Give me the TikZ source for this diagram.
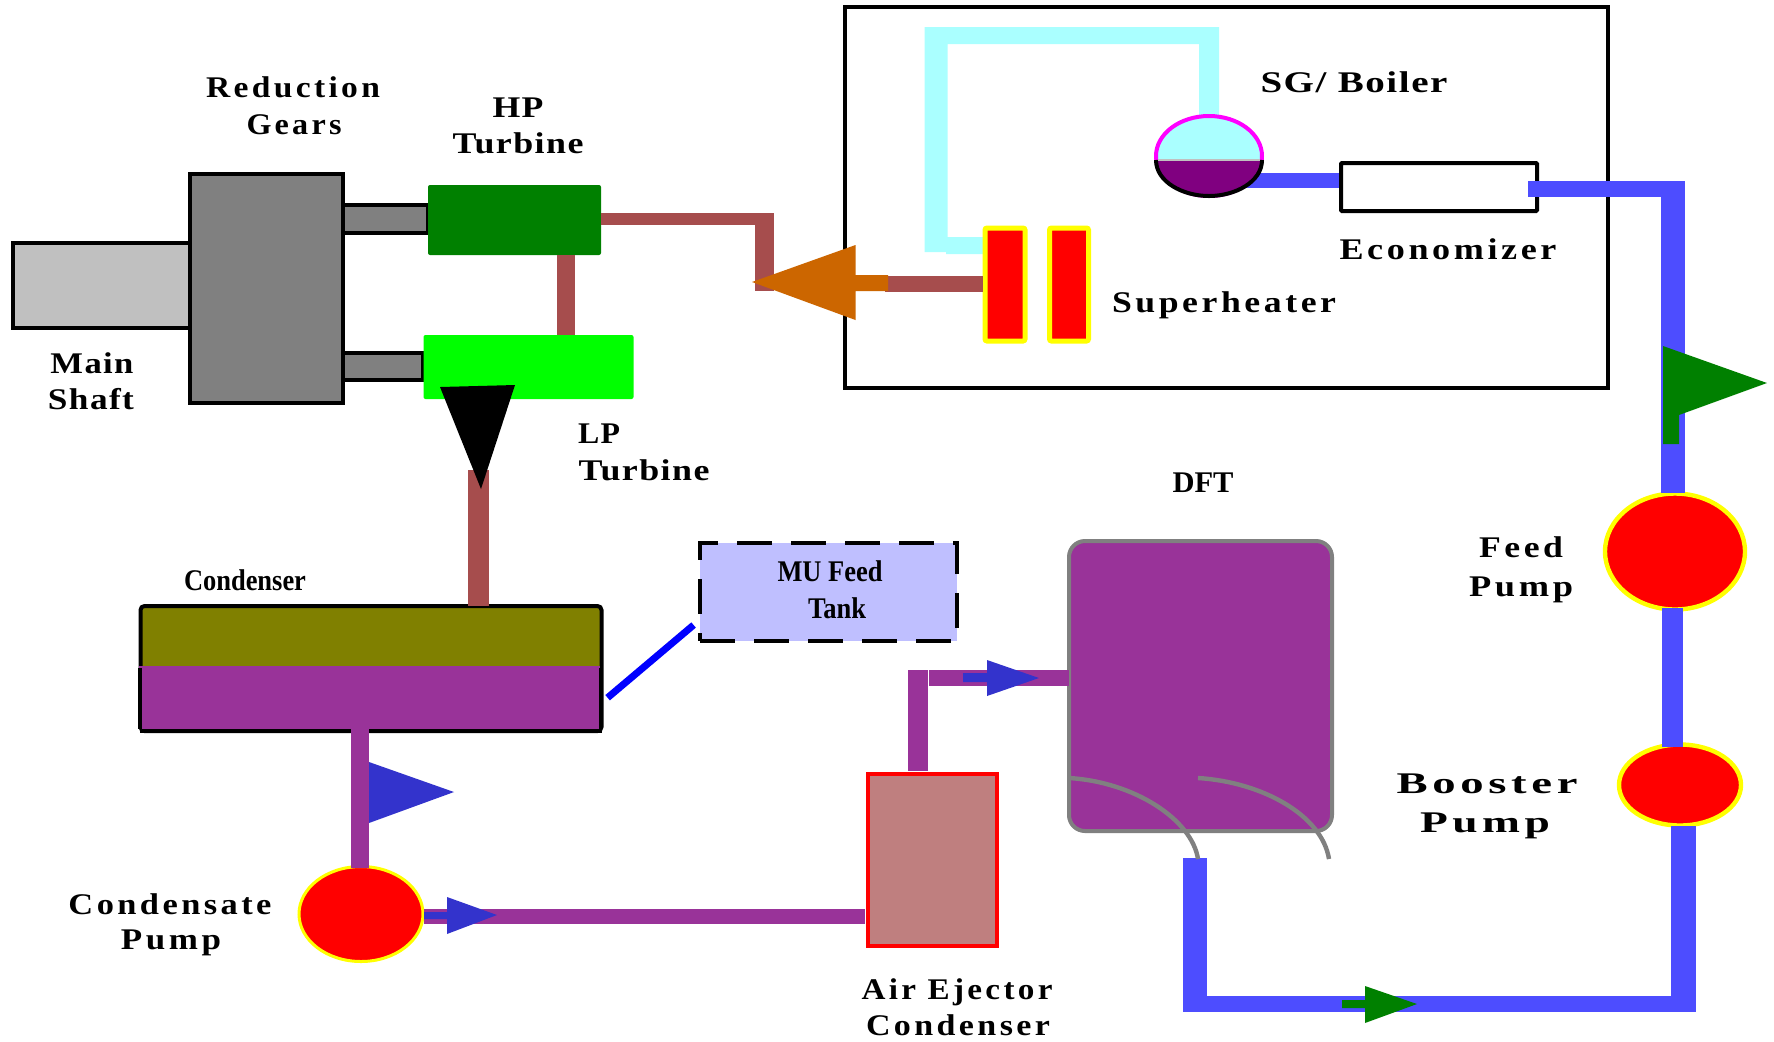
\documentclass[tikz,border=0pt]{standalone}
\usepackage{fontspec}
\usepackage{graphicx}
\usetikzlibrary{shapes.geometric}
\setmainfont{Liberation Serif}
\newfontfamily\widefont[LetterSpace=10]{Liberation Serif}
\newfontfamily\midfont[LetterSpace=4]{Liberation Serif}
\newcommand\fitw[2]{\resizebox{\dimexpr #1pt/2\relax}{\height}{#2}}
\definecolor{steamc}{HTML}{A64D4D}
\definecolor{feedc}{HTML}{4D4DFF}
\definecolor{condc}{HTML}{993399}
\definecolor{cyanc}{HTML}{AAFFFF}
\definecolor{arrowb}{HTML}{3333CC}
\definecolor{orangec}{HTML}{CC6600}
\definecolor{tankc}{HTML}{BFBFFF}
\definecolor{aec}{HTML}{BF7F7F}
\definecolor{dgreen}{HTML}{008000}
\definecolor{lgreen}{HTML}{00FF00}
\definecolor{oliv}{HTML}{808000}
\definecolor{yel}{HTML}{FFFF00}
\definecolor{rd}{HTML}{FF0000}
\definecolor{mag}{HTML}{FF00FF}
\definecolor{gry}{HTML}{808080}
\definecolor{lgry}{HTML}{C0C0C0}
\definecolor{drumc}{HTML}{800080}
\definecolor{pureblue}{HTML}{0000FF}
\tikzset{
  wh/.style 2 args={minimum width=#1*0.5pt,minimum height=#2*0.5pt,inner sep=0pt,outer sep=0pt},
  pipe/.style 2 args={draw=#1,line width=#2*0.5pt,line cap=butt},
  shaftbox/.style={draw=black,fill=gry,line width=2pt,rectangle},
  heater/.style={rectangle,draw=yel,fill=rd,line width=2.5pt,rounded corners=1pt},
  pump/.style={ellipse,draw=yel,fill=rd,line width=2.2pt},
  lab/.style={anchor=base,inner sep=0pt,font=\bfseries\fontsize{15pt}{15pt}\selectfont},
}
\begin{document}
\begin{tikzpicture}[x=0.5pt,y=-0.5pt]
\useasboundingbox (0,0) rectangle (1774,1041);
\fill[white] (0,0) rectangle (1774,1041);
% boiler enclosure
\node[rectangle,draw=black,fill=white,line width=2pt,wh={763}{381}] (enclosure) at (1226.5,197.5) {};
% free ends
\coordinate (steamBend) at (774,219);
\coordinate (steamTop) at (764,213);
\coordinate (steamLow) at (764,291);
\coordinate (econOut) at (1528,189);
\coordinate (econCorner) at (1685,189);
\coordinate (feedTop) at (1673,197);
% shafts
\node[shaftbox,wh={85}{28}] (shaftU) at (385.5,219) {};
\node[shaftbox,wh={80}{27}] (shaftL) at (383,366.5) {};
% main shaft, gears
\node[rectangle,draw=black,fill=lgry,line width=2pt,wh={177}{85}] (mainshaft) at (101.5,285.5) {};
\node[shaftbox,wh={153}{229}] (gears) at (266.5,288.5) {};
% turbines
\node[rectangle,fill=dgreen,rounded corners=1pt,wh={173}{70}] (hp) at (514.5,220) {};
\node[rectangle,fill=lgreen,rounded corners=1pt,wh={210}{64}] (lp) at (528.5,367) {};
% steam pipes
\draw[pipe={steamc}{18}] (hp.south -| 566,0) -- (566,335);
\draw[pipe={steamc}{12}] (hp.east |- steamBend) -- (steamBend);
\draw[pipe={steamc}{19}] (steamTop) -- (steamLow);
% condenser
\node[rectangle,draw=black,fill=oliv,line width=2pt,rounded corners=2pt,wh={461}{125}] (cond) at (371,668.5) {};
\fill[condc] (139,666) rectangle (600,729);
\draw[black,line width=2pt] (140,731) -- (601.5,731);
\draw[black,line width=2pt] (140,668) -- (140,729);
\draw[black,line width=2pt] (601,668) -- (601,729);
\draw[pipe={steamc}{21}] (478.5,470) -- (478.5,606);
\fill[black] (440,387) -- (515,385) -- (481,489) -- cycle;
% cyan duct
\fill[cyanc] (924.5,27) -- (1219,27) -- (1219,116) -- (1199,116) -- (1199,44) -- (947.5,44) -- (947.5,237) -- (983,237) -- (983,254) -- (946,254) -- (946,252) -- (924.5,252) -- cycle;
% superheater
\node[heater,wh={40}{113}] (sh1) at (1005,284.5) {};
\node[heater,wh={39}{113}] (sh2) at (1069,284.5) {};
% boiler drum
\node[ellipse,draw=mag,fill=cyanc,line width=2pt,wh={106}{80}] (drum) at (1209,156) {};
\draw[pipe={feedc}{15}] (1245,180.5) -- (1341,180.5);
\fill[drumc] (1156,160) .. controls (1156,182) and (1183,196) .. (1209,196) .. controls (1235,196) and (1262,182) .. (1262,160) -- cycle;
\draw[black,line width=2pt] (1156,160) .. controls (1156,182) and (1183,196) .. (1209,196) .. controls (1235,196) and (1262,182) .. (1262,160);
\draw[lgry,line width=1pt] (1158,160) -- (1260,160);
% economizer
\node[rectangle,draw=black,fill=white,line width=2pt,rounded corners=0.5pt,wh={196}{48}] (econ) at (1439,187) {};
\draw[pipe={feedc}{16}] (econOut) -- (econCorner);
% steam to orange arrow
\draw[pipe={steamc}{16},shorten <=1.25pt] (sh1.west |- 0,284) -- (885,284);
\fill[orangec] (752,282) -- (855.5,245) -- (855.5,275) -- (888,275) -- (888,291) -- (855.5,291) -- (855.5,320) -- cycle;
% feed line
\node[pump,wh={140}{116}] (feedp) at (1675,551.5) {};
\node[pump,wh={122}{81}] (boost) at (1680,785) {};
\draw[pipe={feedc}{24}] (feedTop) -- (1673,493);
\draw[pipe={feedc}{21}] (1672.5,608) -- (1672.5,747);
\draw[pipe={feedc}{25}] (1683.5,826) -- (1683.5,1012);
\draw[pipe={feedc}{16}] (1183,1004) -- (1696,1004);
\draw[pipe={feedc}{24}] (1195,858) -- (1195,1012);
\fill[dgreen] (1663,346) -- (1767,383) -- (1679,415) -- (1679,444) -- (1663,444) -- cycle;
\fill[dgreen] (1342,1000) -- (1365,1000) -- (1365,986) -- (1417,1004) -- (1365,1023) -- (1365,1008) -- (1342,1008) -- cycle;
% DFT
\node[rectangle,draw=gry,fill=condc,line width=2pt,rounded corners=8pt,wh={263}{290}] (dft) at (1200.5,686) {};
\draw[gry,line width=2.2pt] (1069,778) .. controls (1135,782) and (1192,820) .. (1198,859);
\draw[gry,line width=2.2pt] (1198,778) .. controls (1262,782) and (1322,815) .. (1329,859);
% MU tank
\node[rectangle,fill=tankc,draw=black,line width=2pt,dash pattern=on 17.5pt off 9.5pt,wh={257}{98}] (tank) at (828.5,592) {};
\draw[draw=pureblue,line width=3.5pt] (607.6,697.7) -- (693.6,625);
% condensate line
\node[pump,wh={124}{95},line width=1.5pt] (condp) at (361,914) {};
\draw[pipe={condc}{18}] (360,725) -- (360,868);
\fill[arrowb] (369,762) -- (454,792) -- (369,823) -- cycle;
\node[rectangle,draw=rd,fill=aec,line width=1.8pt,wh={129}{172}] (ae) at (932.5,860) {};
\draw[pipe={condc}{15}] (424,916.5) -- (865,916.5);
\fill[arrowb] (424,912) -- (447,912) -- (447,897) -- (497,915) -- (447,934) -- (447,919) -- (424,919) -- cycle;
\draw[pipe={condc}{20}] (918,670) -- (918,771);
\draw[pipe={condc}{16}] (929,678) -- (dft.west |- 0,678);
\fill[arrowb] (963,673) -- (987,673) -- (987,660) -- (1039,678) -- (987,696) -- (987,682) -- (963,682) -- cycle;
% labels
\node[lab] (tReduction) at (293,97) {\fitw{174}{\widefont Reduction}};
\node[lab] (tGears) at (294,134) {\fitw{95}{\widefont Gears}};
\node[lab] (tHP) at (518,117) {\fitw{51}{\midfont HP}};
\node[lab] (tHPt) at (518,153) {\fitw{131}{\midfont Turbine}};
\node[lab] (tMain) at (92,373) {\fitw{83}{\midfont Main}};
\node[lab] (tShaft) at (91,409) {\fitw{86}{\midfont Shaft}};
\node[lab] (tLP) at (599,443) {\fitw{42}{\midfont LP}};
\node[lab] (tLPt) at (644,480) {\fitw{131}{\midfont Turbine}};
\node[lab] (tSG) at (1354,92) {\fitw{187}{\midfont SG/ Boiler}};
\node[lab] (tEcon) at (1448,259) {\fitw{217}{\widefont Economizer}};
\node[lab] (tSuper) at (1224,312) {\fitw{224}{\widefont Superheater}};
\node[lab] (tDFT) at (1203,492) {\fitw{61}{\bfseries DFT}};
\node[lab] (tFeed) at (1521,557) {\fitw{84}{\widefont Feed}};
\node[lab] (tFPump) at (1521,596) {\fitw{104}{\widefont Pump}};
\node[lab] (tBooster) at (1487,793) {\fitw{181}{\widefont Booster}};
\node[lab] (tBPump) at (1485,832) {\fitw{130}{\widefont Pump}};
\node[lab] (tCond) at (170,914) {\fitw{203}{\widefont Condensate}};
\node[lab] (tCPump) at (171,949) {\fitw{100}{\widefont Pump}};
\node[lab] (tAir) at (957,999) {\fitw{191}{\widefont Air Ejector}};
\node[lab] (tAirC) at (958,1035) {\fitw{184}{\widefont Condenser}};
\node[lab] (tCondenser) at (245,590) {\fitw{122}{Condenser}};
\node[lab] (tMU) at (830,581) {\fitw{105}{MU Feed}};
\node[lab] (tTank) at (837,618) {\fitw{58}{Tank}};
\end{tikzpicture}
\end{document}
